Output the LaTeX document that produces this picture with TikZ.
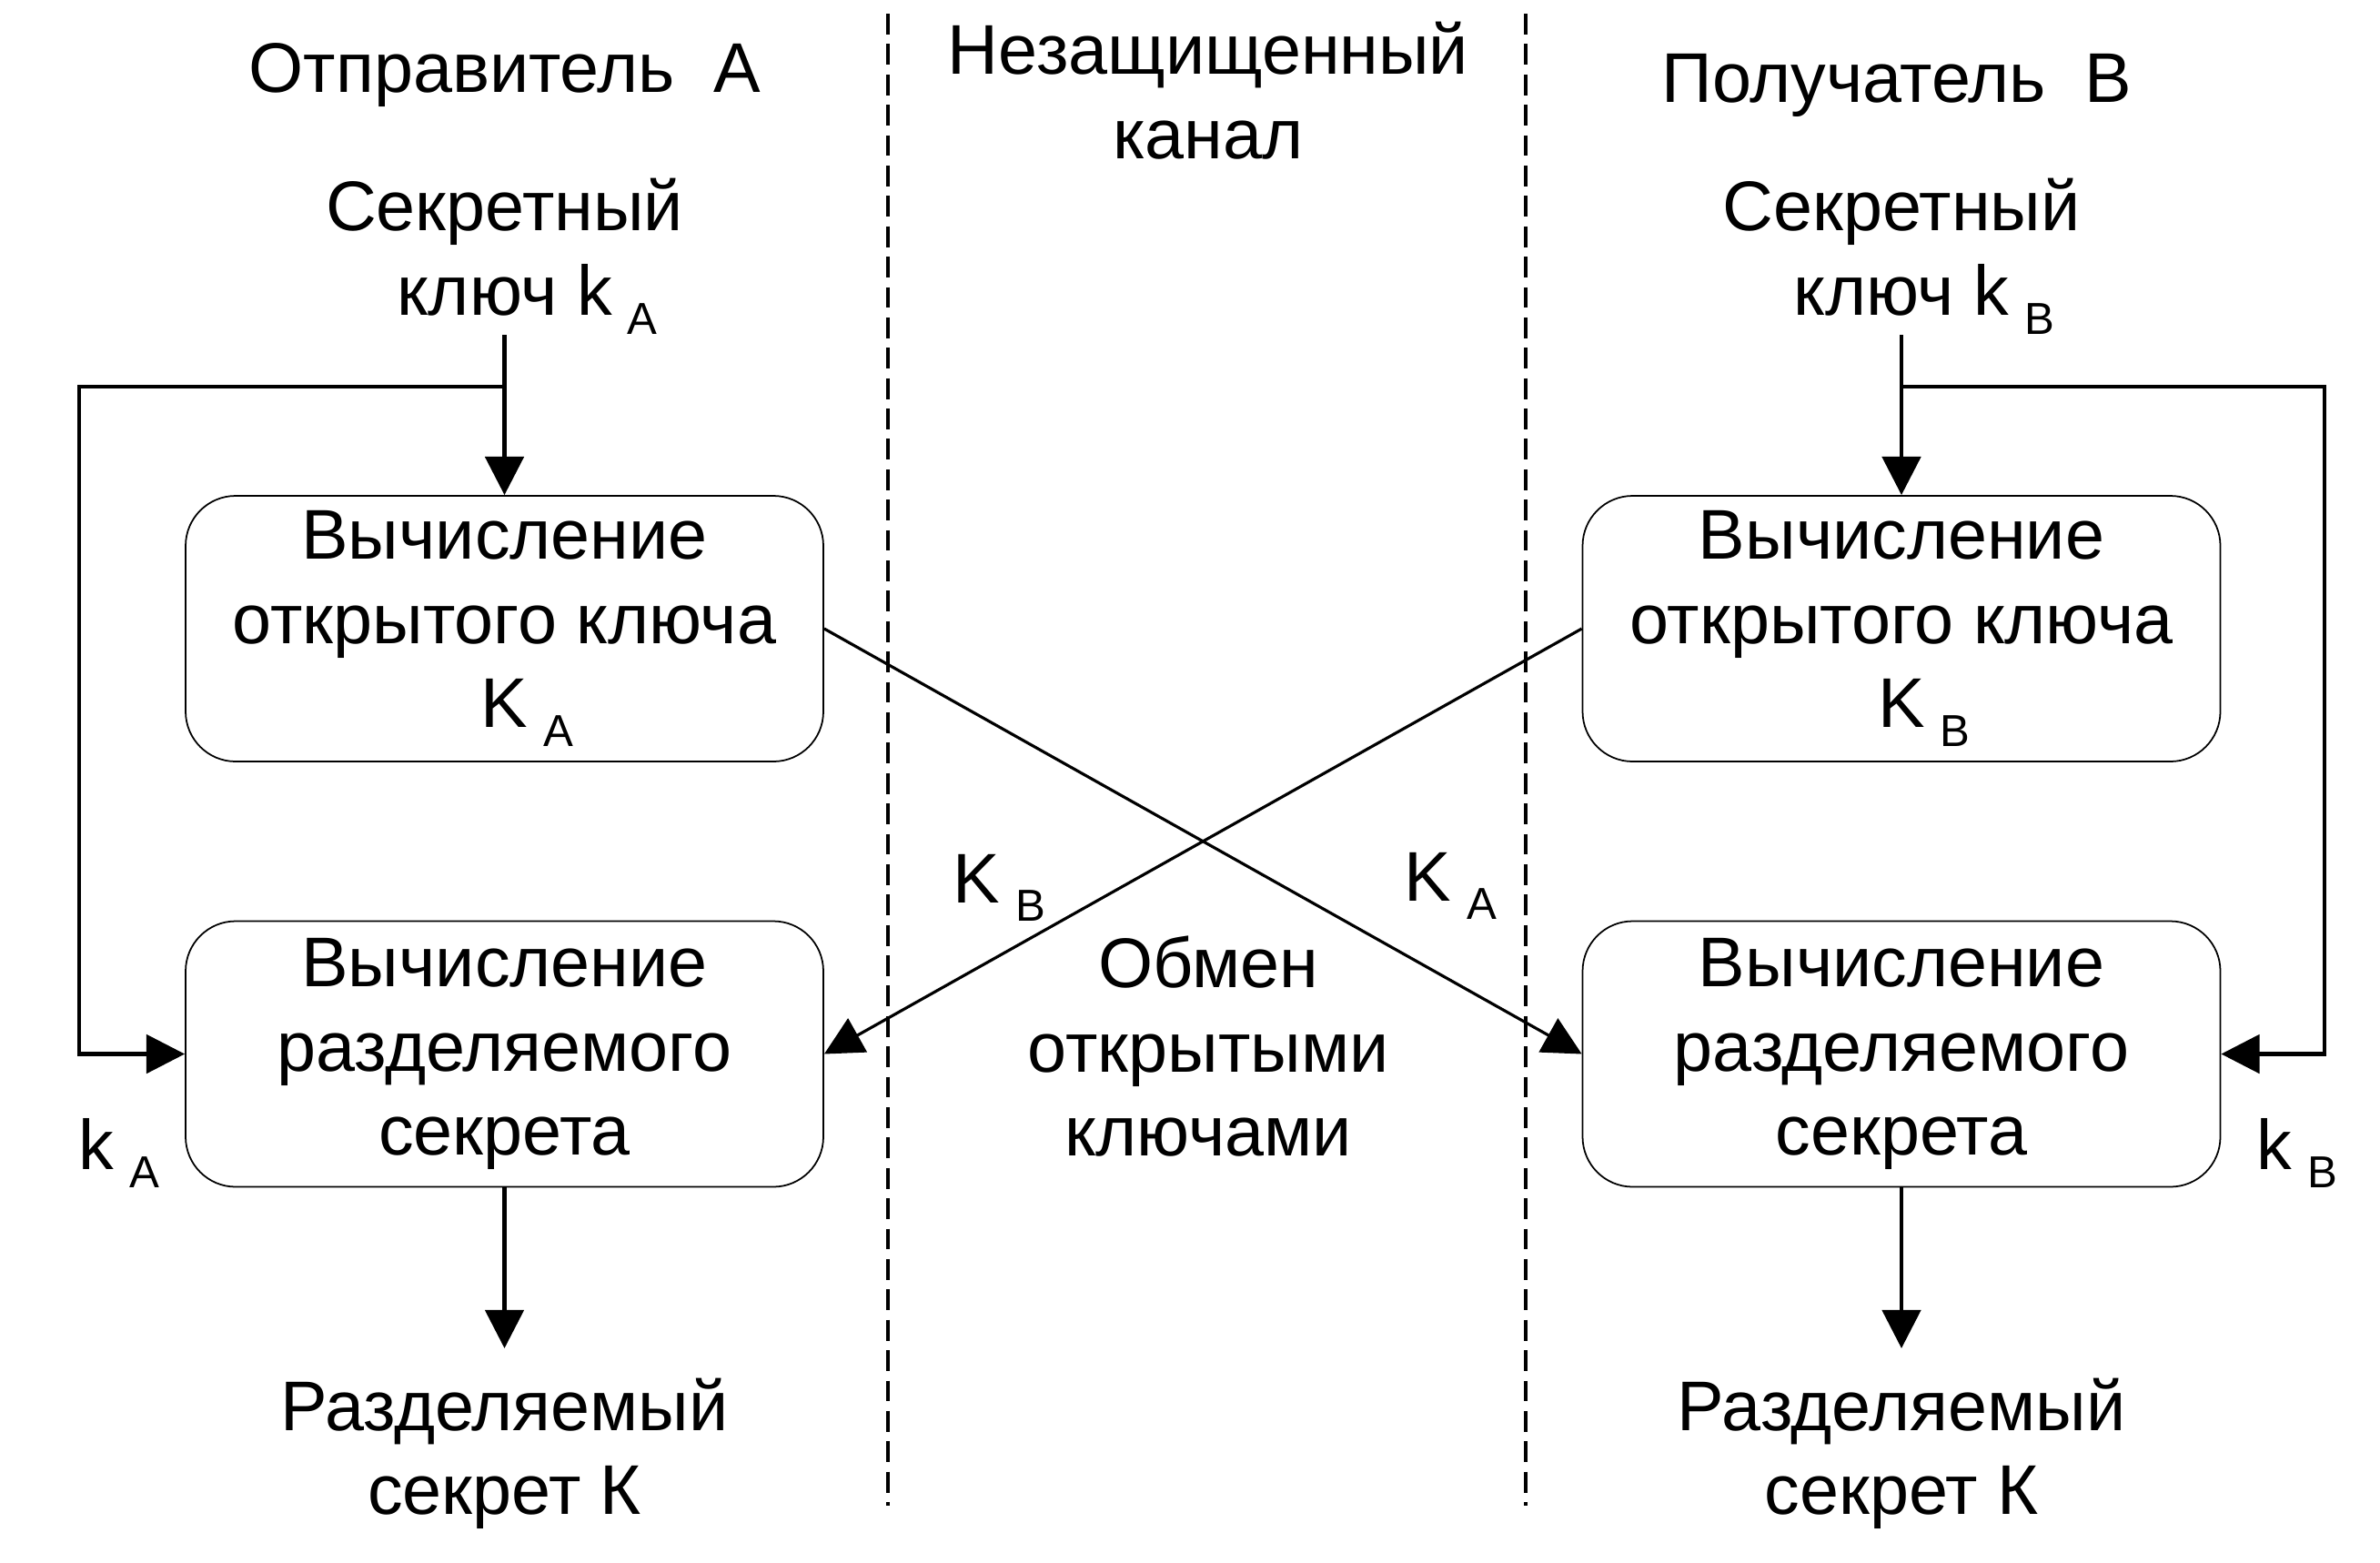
\documentclass[tikz,border=0pt]{standalone}
\usepackage{fontspec}
\setmainfont{Liberation Sans}
\usetikzlibrary{arrows.meta, positioning, calc}

% lowered index letter after k / K
\newcommand{\keyidx}[1]{\rlap{\hspace{0.22em}\raisebox{-0.27em}{\fontsize{14}{14}\selectfont #1}}}

\begin{document}
\begin{tikzpicture}[
  font=\fontsize{22}{26.4}\selectfont,
  box/.style={draw, line width=0.5pt, rounded corners=0.55cm, minimum width=7.01cm, minimum height=2.92cm, align=center, inner sep=0pt},
  txt/.style={align=center, inner sep=0pt},
  arr/.style={-{Triangle[length=12pt, width=12pt]}},
  feed/.style={line width=1.3pt},
  cross/.style={line width=0.9pt},
  chan/.style={dash pattern=on 6.5pt off 3pt, line width=1pt},
]
\path[fill=white] (0,0) rectangle (26.16,-17.17);
\useasboundingbox (0,0) rectangle (26.16,-17.17);

% Channel borders
\draw[chan] (9.76,-0.15) -- (9.76,-16.55);
\draw[chan] (16.77,-0.15) -- (16.77,-16.55);

% Headers
\node[txt, anchor=base] (titleA) at (5.55,-1.01) {Отправитель\ \ А};
\node[txt] (channel) at (13.28,-1.0) {Незащищенный\\канал};
\node[txt, anchor=base] (titleB) at (20.85,-1.12) {Получатель\ \ В};

% Sender A
\node[txt, anchor=south] (seckeyA) at (5.545,-3.68) {Секретный\\ключ k\keyidx{A}};
\node[box] (pubA) at (5.545,-6.91) {Вычисление\\открытого ключа\\K\keyidx{A}};
\node[box] (shareA) at (5.545,-11.585) {Вычисление\\разделяемого\\секрета};
\node[txt, anchor=north] (resA) at (5.545,-15.14) {Разделяемый\\секрет К};
\node[txt, anchor=base west] (loopkA) at (0.86,-12.85) {k\keyidx{A}};
\coordinate (splitA) at (5.545,-4.25);
\coordinate (cornerA) at (0.87,-4.25);

% Receiver B
\node[txt, anchor=south] (seckeyB) at (20.90,-3.68) {Секретный\\ключ k\keyidx{B}};
\node[box] (pubB) at (20.90,-6.91) {Вычисление\\открытого ключа\\K\keyidx{B}};
\node[box] (shareB) at (20.90,-11.585) {Вычисление\\разделяемого\\секрета};
\node[txt, anchor=north] (resB) at (20.90,-15.14) {Разделяемый\\секрет К};
\node[txt, anchor=base west] (loopkB) at (24.80,-12.85) {k\keyidx{B}};
\coordinate (splitB) at (20.90,-4.25);
\coordinate (cornerB) at (25.55,-4.25);

% Exchange
\node[txt] (exch) at (13.28,-11.50) {Обмен\\открытыми\\ключами};
\node[txt, anchor=base west] (labKB) at (10.47,-9.92) {K\keyidx{B}};
\node[txt, anchor=base west] (labKA) at (15.43,-9.90) {K\keyidx{A}};

\draw[feed, arr] (seckeyA.south) -- (pubA.north);
\draw[feed, arr] (splitA) -- (cornerA) |- (shareA.west);
\draw[feed, arr, shorten >=0.32cm] (shareA.south) -- (resA.north);

\draw[feed, arr] (seckeyB.south) -- (pubB.north);
\draw[feed, arr] (splitB) -- (cornerB) |- (shareB.east);
\draw[feed, arr, shorten >=0.32cm] (shareB.south) -- (resB.north);

\draw[cross, arr] (pubA.east) -- (shareB.west);
\draw[cross, arr] (pubB.west) -- (shareA.east);

\end{tikzpicture}
\end{document}
